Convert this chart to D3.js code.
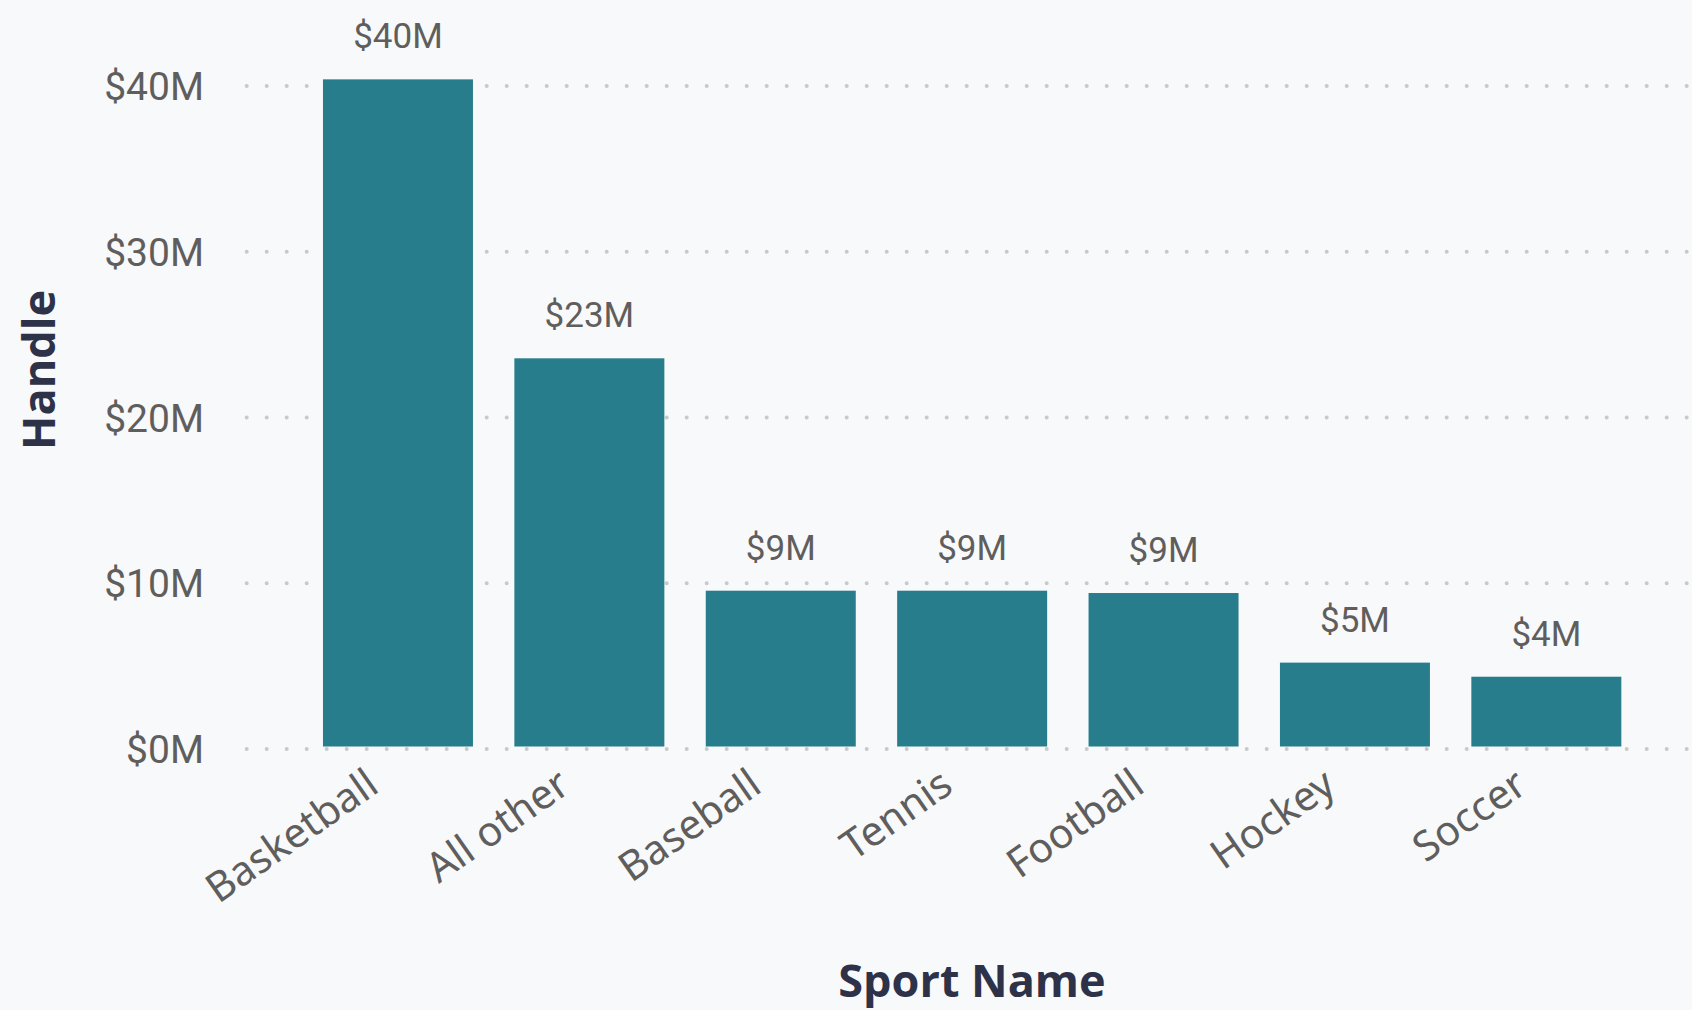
<!DOCTYPE html>
<html>
<head>
<meta charset="utf-8">
<script src="https://cdn.jsdelivr.net/npm/d3@7"></script>
<style>
  html, body { margin: 0; padding: 0; background: #f8f9fb; }
  svg { display: block; }
</style>
</head>
<body>
<svg id="chart" width="1692" height="1010"></svg>
<script>
// Data (values in millions of dollars)
const categories = ["Basketball", "All other", "Baseball", "Tennis", "Football", "Hockey", "Soccer"];
const handleValues = [40.25, 23.42, 9.4, 9.4, 9.26, 5.06, 4.21];
const yTicks = [0, 10, 20, 30, 40];
const yTitle = "Handle";
const xTitle = "Sport Name";

const svg = d3.select("#chart");
const W = 1692, H = 1010;
svg.append("rect").attr("width", W).attr("height", H).attr("fill", "#f8f9fb");

const x = d3.scaleBand()
  .domain(categories)
  .range([302.3, 1642])
  .paddingInner(0.2163)
  .paddingOuter(0.108);

const y = d3.scaleLinear().domain([0, 40]).range([746.5, 83.5]);

const fmt = v => "$" + Math.round(v) + "M";

// gridlines (dotted)
const gridOffset = 2.5;
svg.append("g").selectAll("line")
  .data(yTicks)
  .join("line")
  .attr("x1", 246.7)
  .attr("x2", W + 10)
  .attr("y1", d => y(d) + gridOffset)
  .attr("y2", d => y(d) + gridOffset)
  .attr("stroke", "#c9c9c9")
  .attr("stroke-width", 4)
  .attr("stroke-linecap", "round")
  .attr("stroke-dasharray", "0 20");

// y tick labels
svg.append("g").selectAll("text")
  .data(yTicks)
  .join("text")
  .attr("x", 204)
  .attr("y", d => y(d) + gridOffset + 14)
  .attr("text-anchor", "end")
  .attr("font-family", "Roboto, 'DejaVu Sans Condensed', sans-serif")
  .attr("font-size", 39)
  .attr("fill", "#605e5c")
  .text(d => "$" + d + "M");

// bars
svg.append("g").selectAll("rect")
  .data(categories)
  .join("rect")
  .attr("x", d => x(d))
  .attr("width", x.bandwidth())
  .attr("y", (d, i) => y(handleValues[i]))
  .attr("height", (d, i) => y(0) - y(handleValues[i]))
  .attr("fill", "#287d8c");

// data labels
svg.append("g").selectAll("text")
  .data(categories)
  .join("text")
  .attr("x", d => x(d) + x.bandwidth() / 2)
  .attr("y", (d, i) => y(handleValues[i]) - 31)
  .attr("text-anchor", "middle")
  .attr("font-family", "Roboto, 'DejaVu Sans Condensed', sans-serif")
  .attr("font-size", 35)
  .attr("fill", "#605e5c")
  .text((d, i) => fmt(handleValues[i]));

// x labels (rotated)
svg.append("g").selectAll("text")
  .data(categories)
  .join("text")
  .attr("transform", d => `translate(${x(d) + x.bandwidth() / 2 - 17}, ${y(0) + 44}) rotate(-35)`)
  .attr("text-anchor", "end")
  .attr("font-family", "'Noto Sans', 'Open Sans', sans-serif")
  .attr("font-size", 41)
  .attr("fill", "#605e5c")
  .text(d => d);

// axis titles
svg.append("text")
  .attr("x", 972)
  .attr("y", 997)
  .attr("text-anchor", "middle")
  .attr("font-family", "'Open Sans', 'Noto Sans', sans-serif")
  .attr("font-weight", "bold")
  .attr("font-size", 45)
  .attr("fill", "#2e3248")
  .text(xTitle);

svg.append("text")
  .attr("transform", "translate(55, 370) rotate(-90)")
  .attr("text-anchor", "middle")
  .attr("font-family", "'Open Sans', 'Noto Sans', sans-serif")
  .attr("font-weight", "bold")
  .attr("font-size", 45)
  .attr("fill", "#2e3248")
  .text(yTitle);
</script>
</body>
</html>
